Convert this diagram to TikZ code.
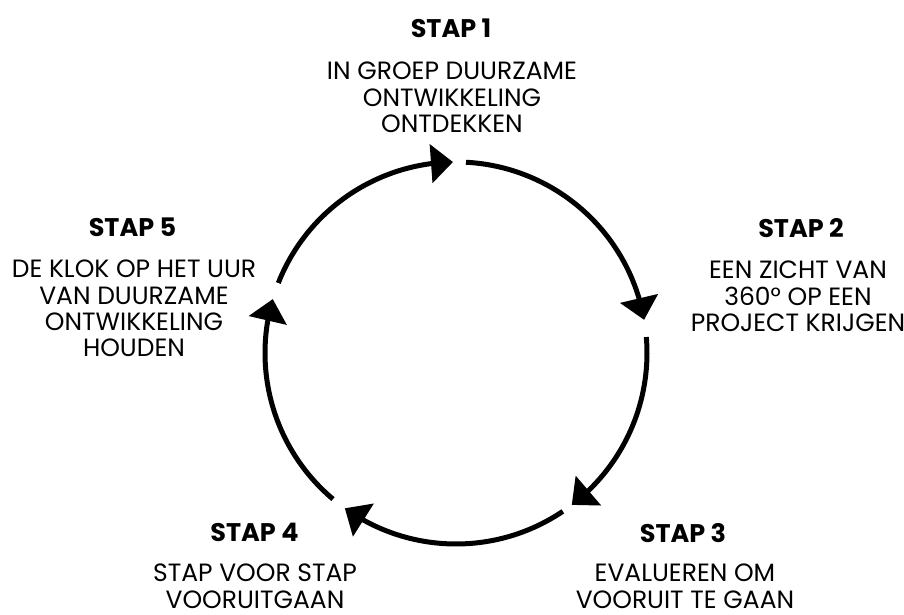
\documentclass[tikz,border=0pt]{standalone}
\usepackage{fontspec}
\setmainfont{Poppins}
\usetikzlibrary{arrows.meta,bending,calc}
\tikzset{
  stephead/.style={font=\fontsize{25.5}{28}\selectfont\bfseries, inner sep=0pt, anchor=north},
  stepbody/.style={font=\fontsize{25}{26.3}\selectfont, inner sep=0pt, anchor=north, align=center},
  cyc/.style={line width=5pt, -{Triangle[length=22pt,width=38pt,flex]}}
}
\begin{document}
\begin{tikzpicture}[x=1pt,y=1pt]
\useasboundingbox (0,0) rectangle (904,615);
\coordinate (c) at (456,262);
\def\R{191}
% labels
\node[stephead] (h1) at (451,596) {STAP 1};
\node[stepbody] (b1) at (452,553) {IN GROEP DUURZAME\\ONTWIKKELING\\ONTDEKKEN};
\node[stephead] (h2) at (801,397) {STAP 2};
\node[stepbody] (b2) at (798,354) {EEN ZICHT VAN\\360° OP EEN\\PROJECT KRIJGEN};
\node[stephead] (h3) at (683,92) {STAP 3};
\node[stepbody] (b3) at (685,51) {EVALUEREN OM\\VOORUIT TE GAAN};
\node[stephead] (h4) at (254.5,92) {STAP 4};
\node[stepbody] (b4) at (255,51) {STAP VOOR STAP\\VOORUITGAAN};
\node[stephead] (h5) at (132.5,397) {STAP 5};
\node[stepbody] (b5) at (134,355) {DE KLOK OP HET UUR\\VAN DUURZAME\\ONTWIKKELING\\HOUDEN};
% cycle points
\coordinate (sA) at ($(c)+(158.5:\R)$);
\coordinate (sB) at ($(c)+(87:\R)$);
\coordinate (sC) at ($(c)+(4.8:\R)$);
\coordinate (sD) at ($(c)+(-56:\R)$);
\coordinate (sE) at ($(c)+(-130.1:\R)$);
\draw[cyc] (sA) arc[start angle=158.5, end angle=90.9, radius=\R];
\draw[cyc] (sB) arc[start angle=87, end angle=10, radius=\R];
\draw[cyc] (sC) arc[start angle=4.8, end angle=-52.7, radius=\R];
\draw[cyc] (sD) arc[start angle=-56, end angle=-125.6, radius=\R];
\draw[cyc] (sE) arc[start angle=-130.1, end angle=-196.4, radius=\R];
\end{tikzpicture}
\end{document}
